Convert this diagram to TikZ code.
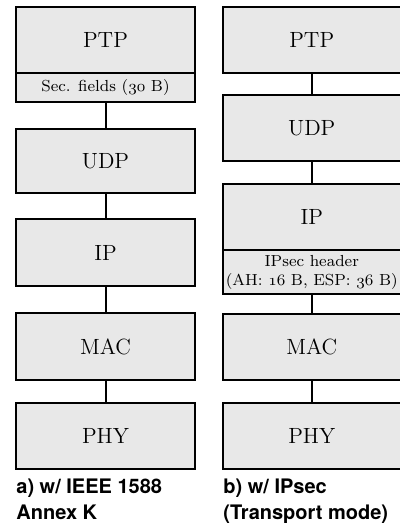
\documentclass[tikz,border=0pt]{standalone}
\usepackage{fontspec}
\newfontfamily\capfont{TeX Gyre Heros}
\usepackage{tikz}
\usetikzlibrary{positioning}
\definecolor{layerfill}{RGB}{232,232,232}
\newcommand{\osn}[1]{$\mathnormal{#1}$}
\tikzset{layer/.style={rectangle,draw,fill=layerfill,line width=1pt,inner sep=0pt,
	   font=\fontsize{11}{13}\selectfont},
	 awide/.style={minimum width=89.5pt},
	 bwide/.style={minimum width=88.75pt},
	 extra/.style={font=\fontsize{8}{9.5}\selectfont,align=center},
	 caption/.style={anchor=base west,inner sep=0pt,font=\capfont\bfseries\fontsize{10}{12}\selectfont},
	 link/.style={line width=1pt}
	 }

\begin{document}
\begin{tikzpicture}[x=0.5pt,y=-0.5pt]
      \useasboundingbox (0,0) rectangle (400,523);
      % a) IEEE 1588 Annex K
      \node[layer,awide,minimum height=33pt] (aptp) at (105.5,40) {PTP};
      \node[layer,awide,extra,minimum height=14.5pt] (asec) at (105.5,87.5) {Sec. fields (\osn{30} B)};
      \node[layer,awide,minimum height=32pt] (audp) at (105.5,161) {UDP};
      \node[layer,awide,minimum height=33.5pt] (aip) at (105.5,252.5) {IP};
      \node[layer,awide,minimum height=33.5pt] (amac) at (105.5,346.5) {MAC};
      \node[layer,awide,minimum height=33pt] (aphy) at (105.5,436) {PHY};
      \draw[link] (asec.south) -- (audp.north);
      \draw[link] (audp.south) -- (aip.north);
      \draw[link] (aip.south) -- (amac.north);
      \draw[link] (amac.south) -- (aphy.north);
      \node[caption] (acapa) at (16,493) {a) w/ IEEE 1588};
      \node[caption] (acapb) at (16,519) {Annex K};
      % b) IPsec
      \node[layer,bwide,minimum height=33pt] (bptp) at (311.75,40) {PTP};
      \node[layer,bwide,minimum height=33pt] (budp) at (311.75,128) {UDP};
      \node[layer,bwide,minimum height=33pt] (bip) at (311.75,217) {IP};
      \node[layer,bwide,extra,minimum height=22pt] (bsec) at (311.75,272) {IPsec header\\(AH: \osn{16} B, ESP: \osn{36} B)};
      \node[layer,bwide,minimum height=33pt] (bmac) at (311.75,347) {MAC};
      \node[layer,bwide,minimum height=33pt] (bphy) at (311.75,436) {PHY};
      \draw[link] (bptp.south) -- (budp.north);
      \draw[link] (budp.south) -- (bip.north);
      \draw[link] (bsec.south) -- (bmac.north);
      \draw[link] (bmac.south) -- (bphy.north);
      \node[caption] (bcapa) at (223,493) {b) w/ IPsec};
      \node[caption] (bcapb) at (223,519) {(Transport mode)};
\end{tikzpicture}
\end{document}
